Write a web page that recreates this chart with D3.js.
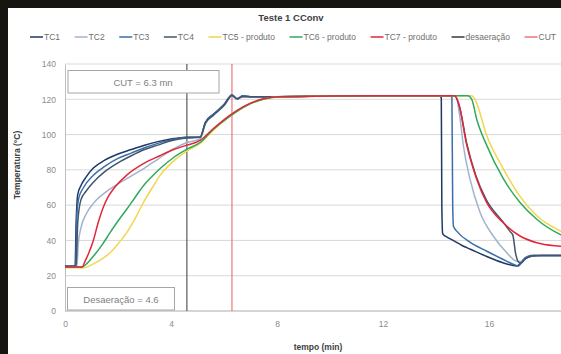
<!DOCTYPE html>
<html>
<head>
<meta charset="utf-8">
<script src="https://cdn.jsdelivr.net/npm/d3@7"></script>
<style>
  body { margin: 0; background: #16150f; }
  svg { display: block; font-family: "Liberation Sans", Arial, sans-serif; }
</style>
</head>
<body>
<svg width="561" height="354"></svg>
<script>
// tempo (min), temperatura (°C)
const tc1 = [[0,25.5],[0.38,25.5],[0.42,50],[0.48,66],[0.6,71],[0.8,76],[1.07,81],[1.5,85.5],[2,89],[2.5,91.5],[3,94],[3.5,96],[4,97.5],[4.6,98.5],[5.1,98.5],[5.3,107],[5.6,111.5],[6,117],[6.3,122.5],[6.5,120],[6.7,122],[7,121.5],[8,121.5],[10,121.8],[12,122],[14.1,122],[14.2,121],[14.22,60],[14.25,44],[14.3,43],[14.4,42],[14.65,40],[15,37],[15.3,35],[15.9,31],[16.5,27.5],[17.05,25.5],[17.3,29],[17.6,31],[18,31.5],[20,31.5]]
const tc2 = [[0,25],[0.45,25],[0.5,38],[0.6,47],[0.8,55],[1.07,61],[1.5,67],[2,72],[2.5,76.5],[3,81],[3.5,86],[4,91],[4.6,95.5],[5.1,97.5],[5.3,106],[5.6,111],[6,116.5],[6.3,122],[6.5,120],[6.7,121.5],[7,121.5],[8,121.5],[10,121.8],[12,122],[14.75,122],[14.9,110],[15.03,94],[15.28,75],[15.66,56],[16.16,42.5],[16.67,33],[17,28.5],[17.2,28],[17.4,30.5],[17.7,31.5],[20,31.5]]
const tc3 = [[0,25],[0.4,25],[0.45,55],[0.52,64],[0.7,70],[1.07,77],[1.5,82],[2,86.5],[2.5,89.5],[3,92.5],[3.5,95],[4,97],[4.6,98.5],[5.1,98.5],[5.3,107],[5.6,111.5],[6,117],[6.3,122.5],[6.5,120],[6.7,122],[7,121.5],[8,121.5],[10,121.8],[12,122],[14.55,122],[14.6,121],[14.63,60],[14.66,48],[14.8,45],[15.28,39],[15.9,34],[16.5,29.5],[17,26],[17.1,25.5],[17.35,30],[17.6,31.5],[20,31.5]]
const tc4 = [[0,25],[0.42,25],[0.48,50],[0.6,63],[0.8,68],[1.07,73],[1.5,79],[2,84],[2.5,88],[3,91.5],[3.5,94],[4,96.5],[4.6,98],[5.1,98.5],[5.3,106.5],[5.6,111],[6,116.5],[6.3,122],[6.5,120.5],[6.7,121.5],[7,121.5],[8,121.5],[10,121.8],[12,122],[14.7,122],[14.9,115],[15.16,95],[15.5,77],[15.9,63],[16.5,51],[16.8,45],[16.9,43],[17,33],[17.1,28],[17.2,27],[17.4,30],[17.7,31.5],[20,31.5]]
const tc5 = [[0,24.5],[0.7,24.5],[1.07,26.7],[1.4,29.5],[1.7,33],[2,38],[2.33,44.4],[2.65,52.5],[2.96,61.5],[3.3,70],[3.58,76.7],[4.1,85],[4.64,91],[5.1,95],[5.6,102.5],[6.23,110.5],[6.86,116.5],[7.48,120],[8.1,121.5],[10,121.8],[12,122],[15.35,122],[15.5,119],[15.91,99.6],[16.54,80.6],[17.17,65],[17.8,54],[18.68,45.5],[20,39]]
const tc6 = [[0,25],[0.65,25],[0.8,26.5],[1.07,31],[1.4,37.5],[1.7,44.4],[2,51],[2.33,57.7],[2.65,64.5],[2.96,71],[3.3,76.5],[3.58,80.6],[4.1,87],[4.64,92],[5.1,95.5],[5.6,103],[6.23,110.5],[6.86,116.5],[7.48,120],[8.1,121.5],[10,121.8],[12,122],[15.2,122],[15.35,120],[15.53,109],[15.91,94],[16.54,75],[17.17,61.5],[17.8,52],[18.68,43.4],[20,38]]
const tc7 = [[0,25],[0.65,25],[0.75,28],[0.9,33],[1.07,40],[1.25,50],[1.45,59],[1.6,64],[1.82,69],[2.33,77],[2.96,83.5],[3.58,88],[4.1,91.5],[4.6,94],[5.1,96.7],[5.6,103.4],[6.23,111],[6.86,116.8],[7.48,120.3],[8.1,121.5],[10,121.8],[12,122],[14.7,122],[14.85,118],[15.16,94],[15.53,75],[15.91,61.5],[16.54,50],[17.17,42.5],[17.8,38.7],[18.68,36.7],[20,35.5]]

const seriesNames = ['TC1', 'TC2', 'TC3', 'TC4', 'TC5 - produto', 'TC6 - produto', 'TC7 - produto']
const seriesData = [tc1, tc2, tc3, tc4, tc5, tc6, tc7]
const seriesColors = ['#1f3864', '#9fb4cc', '#3a6ea8', '#44546a', '#f2d64b', '#2eaa5c', '#e3273a']

const desaeracao = 4.6
const cut = 6.3
const xTicks = [0, 4, 8, 12, 16]
const yTicks = [0, 20, 40, 60, 80, 100, 120, 140]

const svg = d3.select('svg')

// dark frame of the screenshot, white chart area
svg.append('rect').attr('width', 561).attr('height', 354).attr('fill', '#16150f')
svg.append('rect').attr('x', 8).attr('y', 8).attr('width', 553).attr('height', 346).attr('fill', '#fff')

const x = d3.scaleLinear().domain([0, 20]).range([65, 595])
const y = d3.scaleLinear().domain([0, 140]).range([311, 64])

// grid
svg.append('g')
	.selectAll('line')
	.data(yTicks)
	.enter()
	.append('line')
	.attr('x1', x(0))
	.attr('x2', 561)
	.attr('y1', d => y(d))
	.attr('y2', d => y(d))
	.attr('stroke', '#d9d9d9')
	.attr('stroke-width', 1)

// axes
const yAxis = svg.append('g')
	.attr('transform', 'translate(' + x(0) + ',0)')
	.call(d3.axisLeft(y).tickValues(yTicks).tickSize(0).tickPadding(9))
const xAxis = svg.append('g')
	.attr('transform', 'translate(0,' + y(0) + ')')
	.call(d3.axisBottom(x).tickValues(xTicks).tickSize(0).tickPadding(10))
xAxis.select('.domain').attr('d', 'M' + x(0) + ',0H561')

;[yAxis, xAxis].forEach(a => {
	a.select('.domain').attr('stroke', '#bfbfbf')
	a.selectAll('text')
		.attr('fill', '#8c8c8c')
		.style('font-size', '8.5px')
		.style('font-family', '"Liberation Sans", Arial, sans-serif')
})

// reference lines
svg.append('line')
	.attr('x1', x(desaeracao)).attr('x2', x(desaeracao))
	.attr('y1', y(140)).attr('y2', y(0))
	.attr('stroke', '#3a3a3a').attr('stroke-width', 1)
svg.append('line')
	.attr('x1', x(cut)).attr('x2', x(cut))
	.attr('y1', y(140)).attr('y2', y(0))
	.attr('stroke', '#e87878').attr('stroke-width', 1.2)

// series
const line = d3.line()
	.x(d => x(d[0]))
	.y(d => y(d[1]))
	.curve(d3.curveMonotoneX)

svg.append('g')
	.selectAll('path')
	.data(seriesData)
	.enter()
	.append('path')
	.attr('d', line)
	.attr('fill', 'none')
	.attr('stroke', (d, i) => seriesColors[i])
	.attr('stroke-width', 1.5)

// annotation boxes
svg.append('rect')
	.attr('x', 68).attr('y', 70.5).attr('width', 151).attr('height', 22.5)
	.attr('fill', '#fff').attr('stroke', '#a6a6a6')
svg.append('text')
	.attr('x', 143).attr('y', 85.5)
	.attr('text-anchor', 'middle')
	.attr('fill', '#7f7f7f')
	.style('font-size', '9.5px')
	.text('CUT = 6.3 mn')

svg.append('rect')
	.attr('x', 67.5).attr('y', 287.5).attr('width', 107).attr('height', 22.5)
	.attr('fill', '#fff').attr('stroke', '#a6a6a6')
svg.append('text')
	.attr('x', 121).attr('y', 302.5)
	.attr('text-anchor', 'middle')
	.attr('fill', '#7f7f7f')
	.style('font-size', '9.5px')
	.text('Desaeração = 4.6')

// titles
svg.append('text')
	.attr('x', 291).attr('y', 21)
	.attr('text-anchor', 'middle')
	.attr('fill', '#404040')
	.style('font-size', '9.5px')
	.style('font-weight', 'bold')
	.text('Teste  1 CConv')

svg.append('text')
	.attr('transform', 'translate(20,165) rotate(-90)')
	.attr('text-anchor', 'middle')
	.attr('fill', '#404040')
	.style('font-size', '8.5px')
	.style('font-weight', 'bold')
	.text('Temperatura (°C)')

svg.append('text')
	.attr('x', 318).attr('y', 350)
	.attr('text-anchor', 'middle')
	.attr('fill', '#404040')
	.style('font-size', '8.5px')
	.style('font-weight', 'bold')
	.text('tempo (min)')

// legend, spread across the top
const legendNames = seriesNames.concat(['desaeração', 'CUT'])
const legendColors = seriesColors.concat(['#3a3a3a', '#e87878'])
const legend = svg.append('g')
const items = legend.selectAll('g')
	.data(legendNames)
	.enter()
	.append('g')
items.append('line')
	.attr('x1', 0).attr('x2', 13)
	.attr('y1', 0).attr('y2', 0)
	.attr('stroke', (d, i) => legendColors[i])
	.attr('stroke-width', 1.5)
items.append('text')
	.attr('x', 14)
	.attr('dy', '0.33em')
	.attr('fill', '#6f6f6f')
	.style('font-size', '8.5px')
	.text(d => d)

const widths = items.nodes().map(n => 14 + n.querySelector('text').getComputedTextLength())
const start = 30, end = 556
const gap = (end - start - d3.sum(widths)) / (widths.length - 1)
let pos = start
items.attr('transform', (d, i) => {
	const t = 'translate(' + pos + ',37)'
	pos += widths[i] + gap
	return t
})
</script>
</body>
</html>
